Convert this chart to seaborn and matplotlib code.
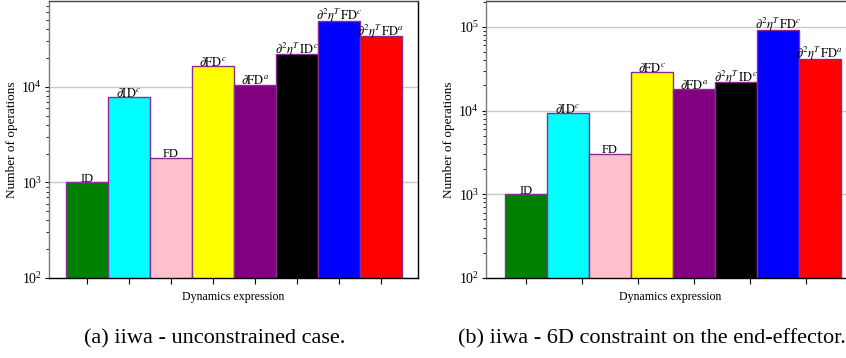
import numpy as np
import pandas as pd
import matplotlib
matplotlib.use("Agg")
import matplotlib.pyplot as plt
import seaborn as sns

# Bar labels and colours (same for both panels)
expressions = [r'ID', r'$\partial\mathrm{ID}^c$', r'FD', r'$\partial\mathrm{FD}^c$',
               r'$\partial\mathrm{FD}^a$', r'$\partial^2\eta^T\,\mathrm{ID}^c$',
               r'$\partial^2\eta^T\,\mathrm{FD}^c$', r'$\partial^2\eta^T\,\mathrm{FD}^a$']
bar_colors = ['#008000', '#00ffff', '#ffc0cb', '#ffff00', '#800080', '#000000', '#0000ff', '#ff0000']

# Number of operations
ops_unconstrained = [1000, 7800, 1815, 16400, 10500, 22000, 49300, 34000]
ops_6d_constraint = [1010, 9330, 3060, 28600, 17900, 21700, 92300, 41600]

captions = ['(a) iiwa - unconstrained case.', '(b) iiwa - 6D constraint on the end-effector.']

sns.set_style("white")
plt.rcParams['font.family'] = ['Liberation Serif', 'DejaVu Serif']
plt.rcParams['mathtext.fontset'] = 'stix'
plt.rcParams['text.color'] = 'black'
plt.rcParams['axes.labelcolor'] = 'black'
plt.rcParams['xtick.color'] = 'black'
plt.rcParams['ytick.color'] = 'black'

fig = plt.figure(figsize=(8.46, 3.58), dpi=100)
ax_a = fig.add_axes([0.0579, 0.2235, 0.436, 0.7735])
ax_b = fig.add_axes([0.5745, 0.2235, 0.436, 0.7735])


def draw_panel(ax, values, ylim, xlim, xticks):
    df = pd.DataFrame({'expr': expressions, 'ops': values})
    sns.barplot(data=df, x='expr', y='ops', hue='expr', palette=bar_colors,
                width=1.0, dodge=False, legend=False, edgecolor='#8a2a96',
                linewidth=1.0, ax=ax, saturation=1)
    ax.set_yscale('log')
    ax.set_ylim(*ylim)
    ax.set_xlim(*xlim)
    for i, (lab, v) in enumerate(zip(expressions, values)):
        ax.text(i, v * 1.01, lab, ha='center', va='baseline', fontsize=9)
    ax.set_xticks(xticks)
    ax.set_xticklabels([])
    ax.yaxis.grid(True, which='major', color='#c8c8c8', linewidth=1)
    ax.set_axisbelow(True)
    ax.set_xlabel('Dynamics expression', fontsize=8.6, labelpad=2)
    ax.set_ylabel('Number of operations', fontsize=9.5, labelpad=2)
    ax.tick_params(axis='y', which='major', labelsize=10, length=3, direction='out', left=True, pad=2)
    ax.tick_params(axis='y', which='minor', length=2, direction='out', left=True)
    ax.tick_params(axis='x', length=4, direction='out', bottom=True)
    ax.spines['left'].set_color('#7a7a7a')
    ax.spines['top'].set_color('#444444')
    ax.spines['bottom'].set_color('black')
    ax.spines['right'].set_color('black')
    for s in ax.spines.values():
        s.set_linewidth(1.0)


draw_panel(ax_a, ops_unconstrained, (100, 7.9e4), (-0.9, 7.88), np.arange(8))
draw_panel(ax_b, ops_6d_constraint, (100, 2.03e5), (-0.95, 7.83), np.arange(0, 8, 4 / 3))

fig.text(0.254, 0.053, captions[0], ha='center', va='center', fontsize=16)
fig.text(0.541, 0.053, captions[1], ha='left', va='center', fontsize=16)

fig.savefig('out.png', dpi=100)
